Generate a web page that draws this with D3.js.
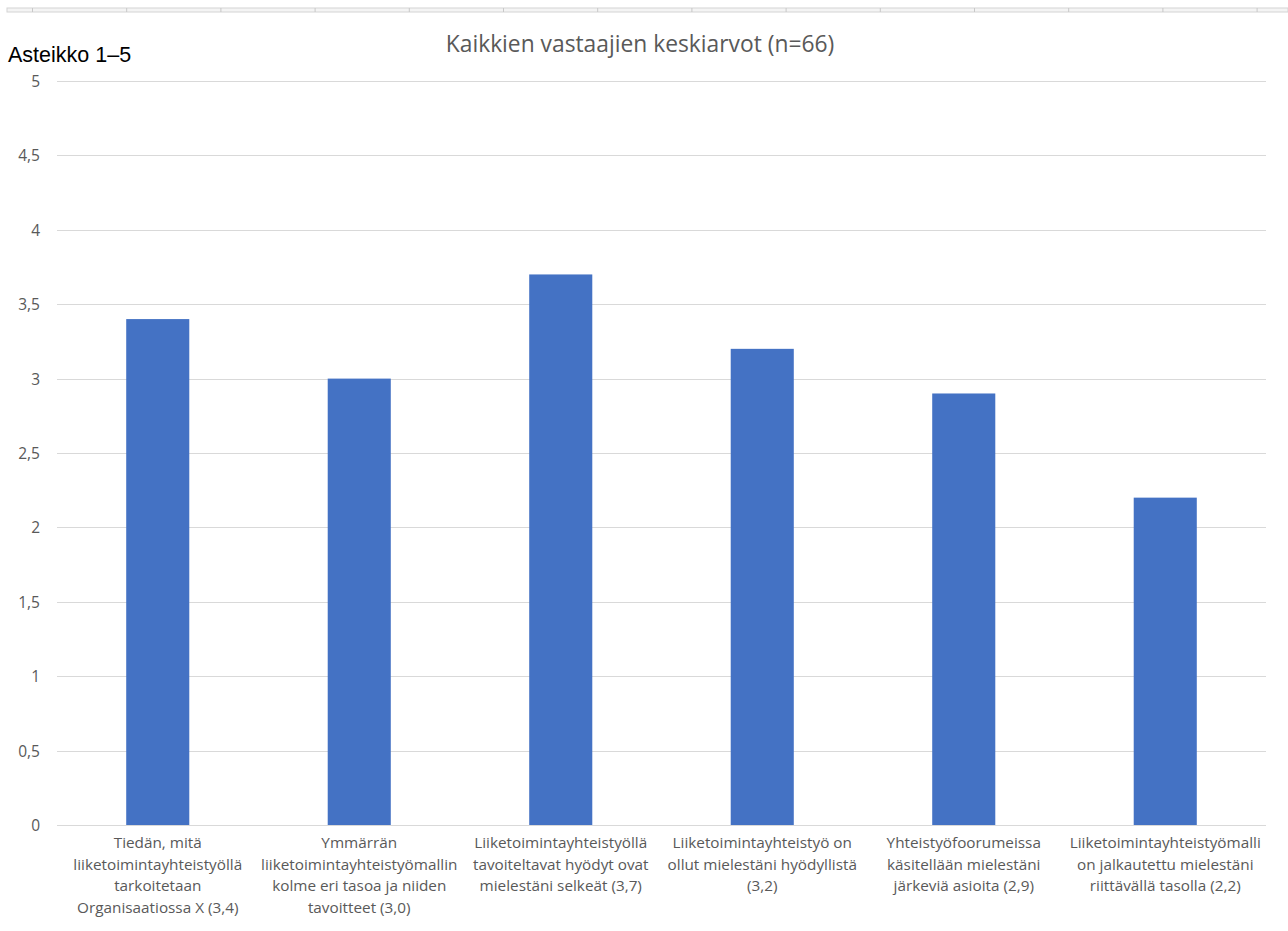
<!DOCTYPE html>
<html>
<head>
<meta charset="utf-8">
<script src="https://cdn.jsdelivr.net/npm/d3@7"></script>
<style>
  html, body { margin: 0; padding: 0; background: #fff; }
  svg { display: block; }
</style>
</head>
<body>
<svg id="chart" width="1288" height="931"></svg>
<script>
// ---- data ----
const categories = [
  ["Tiedän, mitä", "liiketoimintayhteistyöllä", "tarkoitetaan", "Organisaatiossa X (3,4)"],
  ["Ymmärrän", "liiketoimintayhteistyömallin", "kolme eri tasoa ja niiden", "tavoitteet (3,0)"],
  ["Liiketoimintayhteistyöllä", "tavoiteltavat hyödyt ovat", "mielestäni selkeät (3,7)"],
  ["Liiketoimintayhteistyö on", "ollut mielestäni hyödyllistä", "(3,2)"],
  ["Yhteistyöfoorumeissa", "käsitellään mielestäni", "järkeviä asioita (2,9)"],
  ["Liiketoimintayhteistyömalli", "on jalkautettu mielestäni", "riittävällä tasolla (2,2)"]
];
const values = [3.4, 3.0, 3.7, 3.2, 2.9, 2.2];
const yTicks = [0, 0.5, 1, 1.5, 2, 2.5, 3, 3.5, 4, 4.5, 5];
const titleText = "Kaikkien vastaajien keskiarvot (n=66)";
const scaleLabel = "Asteikko 1–5";

// ---- layout ----
const svg = d3.select("#chart");
const W = 1288, H = 931;
const plot = { left: 57, right: 1266, top: 81, bottom: 825 };

// spreadsheet strip at top
const strip = svg.append("g");
strip.append("rect").attr("x", 7).attr("y", 8).attr("width", W - 7).attr("height", 4)
  .attr("fill", "#f4f4f4").attr("stroke", "#d4d4d4").attr("stroke-width", 1);
const sepX = d3.range(32.5, W, 94.2);
strip.selectAll("line.sep").data(sepX).join("line")
  .attr("x1", d => d).attr("x2", d => d).attr("y1", 8).attr("y2", 12)
  .attr("stroke", "#c8c8c8").attr("stroke-width", 1);

const x = d3.scaleBand()
  .domain(d3.range(categories.length))
  .range([plot.left, plot.right])
  .paddingInner(0.687).paddingOuter(0.3435);
const xc = d3.scaleBand().domain(d3.range(categories.length)).range([plot.left, plot.right]);

const y = d3.scaleLinear().domain([0, 5]).range([plot.bottom, plot.top]);

// gridlines
svg.append("g").selectAll("line").data(yTicks).join("line")
  .attr("x1", plot.left).attr("x2", plot.right)
  .attr("y1", d => Math.round(y(d)) + 0.5).attr("y2", d => Math.round(y(d)) + 0.5)
  .attr("stroke", "#d9d9d9").attr("stroke-width", 1);

// y axis labels
const yAxis = d3.axisLeft(y).tickValues(yTicks).tickSize(0).tickPadding(0)
  .tickFormat(d => String(d).replace(".", ","));
const gy = svg.append("g").attr("transform", `translate(40,0)`).call(yAxis);
gy.select(".domain").remove();
gy.selectAll("text").attr("font-family", "'Open Sans', sans-serif").attr("font-size", 15.5)
  .attr("fill", "#595959").attr("dy", "0.35em");

// bars
svg.append("g").selectAll("rect").data(values).join("rect")
  .attr("x", (d, i) => x(i)).attr("width", x.bandwidth())
  .attr("y", d => y(d)).attr("height", d => y(0) - y(d))
  .attr("fill", "#4472c4");

// x labels
const xl = svg.append("g").selectAll("text").data(categories).join("text")
  .attr("text-anchor", "middle")
  .attr("font-family", "'Open Sans', sans-serif").attr("font-size", 15.3)
  .attr("fill", "#595959");
xl.each(function(lines, i) {
  const t = d3.select(this);
  lines.forEach((ln, k) => {
    t.append("tspan").attr("x", xc(i) + xc.bandwidth() / 2).attr("y", 848 + k * 21.5).text(ln);
  });
});

// title
svg.append("text").attr("x", 640).attr("y", 52).attr("text-anchor", "middle")
  .attr("font-family", "'Open Sans', sans-serif").attr("font-size", 22.8)
  .attr("fill", "#595959").text(titleText);

// scale label
svg.append("text").attr("x", 8).attr("y", 62)
  .attr("font-family", "Arial, 'Liberation Sans', sans-serif").attr("font-size", 21.5)
  .attr("fill", "#000").text(scaleLabel);
</script>
</body>
</html>
